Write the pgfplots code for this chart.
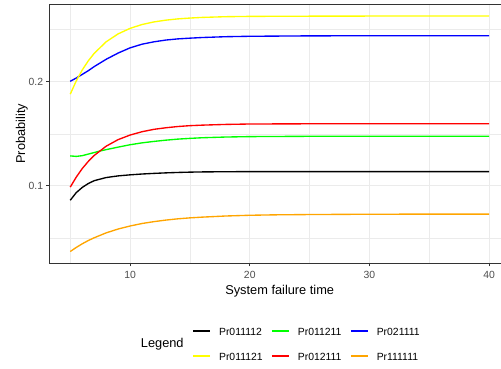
\documentclass[border=0pt]{standalone}
\usepackage{pgfplots}
\pgfplotsset{compat=1.18}
\usepackage{fontspec}
\setmainfont{Liberation Sans}
\definecolor{gridc}{HTML}{EBEBEB}
\definecolor{bordc}{HTML}{333333}
\definecolor{tickc}{HTML}{4D4D4D}
\definecolor{myorange}{HTML}{FFA500}
\definecolor{mygreen}{HTML}{00FF00}
\definecolor{myyellow}{HTML}{FFFF00}
\definecolor{myblue}{HTML}{0000FF}
\definecolor{myred}{HTML}{FF0000}
\begin{document}
\begin{tikzpicture}
\begin{axis}[
 at={(49.3pt,105.7pt)}, anchor=south west,
 scale only axis, width=460.8pt, height=259pt,
 xmin=3.25, xmax=41.75, ymin=0.0257, ymax=0.2743,
 xtick={10,20,30,40}, ytick={0.1,0.2},
 minor xtick={5,15,25,35}, minor ytick={0.05,0.15,0.25},
 grid=both,
 major grid style={gridc, line width=1.1pt},
 minor grid style={gridc, line width=0.55pt},
 tick align=outside, major tick length=3.2pt, minor tick length=0pt,
 xtick pos=lower, ytick pos=left,
 tick style={bordc, line width=0.9pt},
 axis line style={bordc, line width=0.9pt},
 /pgf/number format/assume math mode=true,
 ticklabel style={font=\fontsize{10.4}{12}\selectfont, text=tickc},
 yticklabel style={/pgf/number format/fixed, /pgf/number format/precision=1, anchor=east, inner sep=0pt, xshift=-2.8pt},
 xticklabel style={anchor=base, inner sep=0pt, yshift=-12.5pt},
 xlabel={System failure time},
 ylabel={Probability},
 xlabel style={at={(axis description cs:0.5,-0.1205)}, anchor=base, font=\fontsize{12.8}{14}\selectfont, inner sep=0pt},
 ylabel style={at={(axis description cs:-0.0527,0.5)}, anchor=base, rotate=0, font=\fontsize{12.8}{14}\selectfont, inner sep=0pt},
 legend columns=3,
 legend cell align=left,
 legend style={at={(axis description cs:0.3103,-0.2402)}, anchor=north west, draw=none, fill=none, inner sep=0pt, outer sep=0pt, row sep=13.7pt, column sep=8.5pt, font=\fontsize{10.4}{12}\selectfont, nodes={inner sep=0pt, text height=10pt, text depth=1pt}},
 legend image code/.code={\draw[#1, line width=1.6pt] (0pt,0pt) -- (16.7pt,0pt);},
 clip=true,
]
\addplot[black, line width=1.35pt] coordinates {
(5,0.0862) (5.5,0.0935) (6,0.0985) (6.5,0.1022) (7,0.1050) (8,0.1080) (9,0.1096) (10,0.1106) (11,0.1114) (12,0.1120) (13,0.1125) (14,0.1129) (15,0.1132) (16,0.1134) (18,0.1136) (20,0.1137) (25,0.1137) (30,0.1137) (35,0.1137) (40,0.1137)};
\addlegendentry{Pr011112}
\addplot[mygreen, line width=1.35pt] coordinates {
(5,0.1288) (5.5,0.1283) (6,0.1290) (6.5,0.1305) (7,0.1320) (7.5,0.1335) (8,0.1348) (9,0.1372) (10,0.1395) (11,0.1413) (12,0.1427) (13,0.1439) (14,0.1449) (15,0.1456) (16,0.1462) (18,0.1469) (20,0.1473) (25,0.1476) (30,0.1476) (35,0.1476) (40,0.1476)};
\addlegendentry{Pr011211}
\addplot[myblue, line width=1.35pt] coordinates {
(5,0.2004) (5.5,0.2035) (6,0.2070) (6.5,0.2105) (7,0.2145) (8,0.2215) (9,0.2275) (10,0.2325) (11,0.2360) (12,0.2383) (13,0.2400) (14,0.2411) (15,0.2418) (16,0.2424) (18,0.2432) (20,0.2436) (25,0.2440) (30,0.2441) (35,0.2441) (40,0.2441)};
\addlegendentry{Pr021111}
\addplot[myyellow, line width=1.35pt] coordinates {
(5,0.1880) (5.5,0.2007) (6,0.2112) (6.5,0.2199) (7,0.2272) (8,0.2383) (9,0.2459) (10,0.2512) (11,0.2549) (12,0.2574) (13,0.2591) (14,0.2603) (15,0.2611) (16,0.2617) (18,0.2624) (20,0.2627) (25,0.2629) (30,0.2630) (35,0.2630) (40,0.2630)};
\addlegendentry{Pr011121}
\addplot[myred, line width=1.35pt] coordinates {
(5,0.0988) (5.5,0.1084) (6,0.1166) (6.5,0.1234) (7,0.1292) (8,0.1381) (9,0.1444) (10,0.1488) (11,0.1520) (12,0.1543) (13,0.1558) (14,0.1570) (15,0.1578) (16,0.1583) (18,0.1590) (20,0.1594) (25,0.1596) (30,0.1597) (35,0.1597) (40,0.1597)};
\addlegendentry{Pr012111}
\addplot[myorange, line width=1.35pt] coordinates {
(5,0.0370) (5.5,0.0409) (6,0.0444) (6.5,0.0475) (7,0.0502) (8,0.0549) (9,0.0586) (10,0.0615) (11,0.0639) (12,0.0657) (13,0.0672) (14,0.0684) (15,0.0693) (16,0.0700) (18,0.0711) (20,0.0718) (22,0.0722) (25,0.0725) (30,0.0728) (35,0.0729) (40,0.0729)};
\addlegendentry{Pr111111}
\end{axis}
\node[anchor=base west, font=\fontsize{12.8}{14}\selectfont, inner sep=0pt] at (140.7pt,21.5pt) {Legend};
\pgfresetboundingbox
\path[use as bounding box] (0pt,0pt) rectangle (501pt,369pt);
\end{tikzpicture}
\end{document}
